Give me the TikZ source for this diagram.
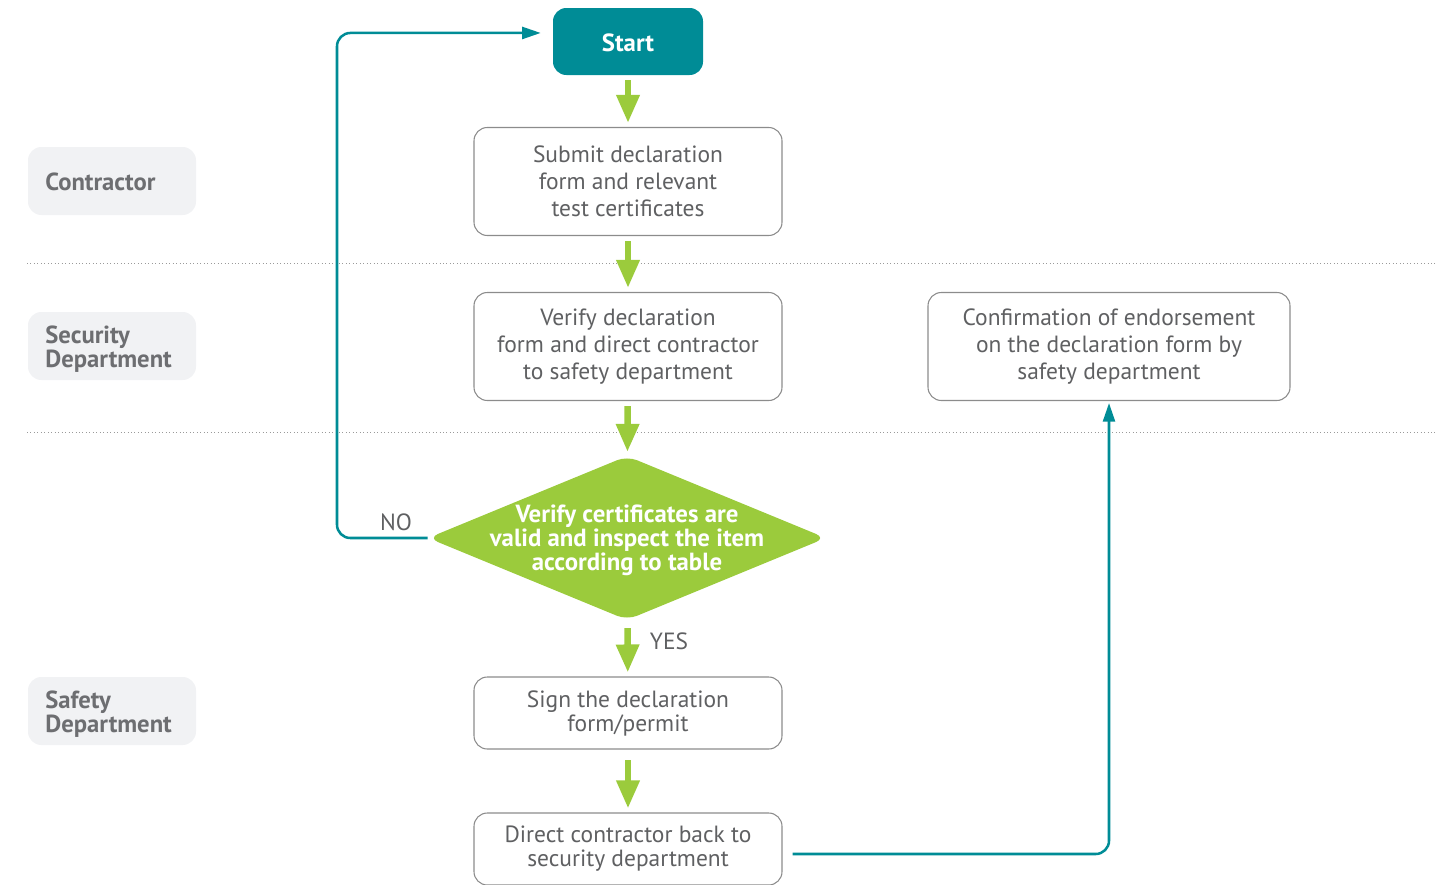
\documentclass[tikz,border=0pt]{standalone}
\usepackage{fontspec}
\setmainfont{PT Sans}
\usetikzlibrary{arrows.meta,shapes.geometric,calc}
\definecolor{tealc}{HTML}{008C96}
\definecolor{greenc}{HTML}{9BCB3C}
\definecolor{lanefill}{HTML}{F1F2F4}
\definecolor{lanetext}{HTML}{6D6E71}
\definecolor{bodytext}{HTML}{5F6062}
\definecolor{boxline}{HTML}{8C8C8C}
\definecolor{dotline}{HTML}{9A9A9A}
\begin{document}
\begin{tikzpicture}[x=0.75pt,y=-0.75pt,
  bodyfont/.style={font=\fontsize{17.6}{20.25}\selectfont},
  procbox/.style={draw=boxline, line width=0.8pt, rounded corners=10pt, fill=white,
    text=bodytext, align=center, bodyfont, minimum width=231pt, minimum height=81pt, inner sep=0pt},
  shortbox/.style={procbox, minimum height=54pt, font=\fontsize{17.6}{18}\selectfont},
  startbox/.style={fill=tealc, rounded corners=10pt, text=white, font=\bfseries\fontsize{18.6}{20}\selectfont,
    minimum width=112.5pt, minimum height=50.25pt, inner sep=0pt, text height=16pt},
  lanebox/.style={fill=lanefill, rounded corners=10pt, minimum width=126pt, minimum height=51pt, inner sep=0pt},
  lanetitle/.style={text=lanetext, align=left, anchor=west, inner sep=0pt,
    font=\bfseries\fontsize{18.5}{16.5}\selectfont},
  decbox/.style={diamond, fill=greenc, rounded corners=8pt, minimum width=298.5pt,
    minimum height=123pt, inner sep=0pt},
  dectext/.style={text=white, align=center, font=\bfseries\fontsize{18.6}{18}\selectfont, inner sep=0pt},
  flowarrow/.style={draw=greenc, line width=4.9pt, -{Triangle[width=16.5pt,length=21pt]},
    shorten <=3.75pt, shorten >=3pt},
  backline/.style={draw=tealc, line width=1.9pt, rounded corners=10pt,
    -{Triangle[width=9pt,length=14pt]}},
  lanesep/.style={draw=dotline, line width=0.6pt, dotted},
  tag/.style={text=bodytext, bodyfont, inner sep=0pt}
]
\useasboundingbox (0,0) rectangle (1442,885);

% swimlane separators
\coordinate (sepAl) at (27,263);  \coordinate (sepAr) at (1436,263);
\coordinate (sepBl) at (27,432);  \coordinate (sepBr) at (1436,432);
\draw[lanesep] (sepAl) -- (sepAr);
\draw[lanesep] (sepBl) -- (sepBr);

% lane titles
\node[lanebox] (laneC) at (112,181) {};
\node[lanebox] (laneS) at (112,346) {};
\node[lanebox] (laneF) at (112,711) {};
\node[lanetitle] (laneCt) at ([xshift=13pt,yshift=-0.8pt]laneC.west) {Contractor};
\node[lanetitle] (laneSt) at ([xshift=13pt,yshift=-2.6pt]laneS.west) {Security\\Department};
\node[lanetitle] (laneFt) at ([xshift=13pt,yshift=-2.6pt]laneF.west) {Safety\\Department};

% process steps
\node[startbox] (start) at (628,41.5) {Start};
\node[procbox] (submit) at (628,181.5) {Submit declaration\\form and relevant\\test certificates};
\node[procbox] (verify) at (628,346.5) {Verify declaration\\form and direct contractor\\to safety department};
\node[procbox, minimum width=271.5pt] (confirm) at (1109,346.5) {Confirmation of endorsement\\on the declaration form by\\safety department};
\node[decbox] (dec) at (627,538) {};
\node[dectext] (dect) at (627,540) {Verify certificates are\\valid and inspect the item\\according to table};
\node[shortbox] (sign) at (628,713) {Sign the declaration\\form/permit};
\node[shortbox] (direct) at (628,849) {Direct contractor back to\\security department};

% main flow
\draw[flowarrow] (start) -- (submit);
\draw[flowarrow] (submit) -- (verify);
\draw[flowarrow] (verify) -- (dec);
\draw[flowarrow, shorten <=6pt] (dec) -- (sign);
\draw[flowarrow, shorten <=8pt] (sign) -- (direct);

% branch labels
\node[tag] (yes) at (669,641) {YES};
\node[tag] (no) at (396,522) {NO};

% return loops
\coordinate (nocorner) at (337,538);
\draw[backline, shorten >=9pt] (dec.west) -- (nocorner) |- ([yshift=6.4pt]start.west);
\draw[backline, shorten >=1.5pt] ([shift={(10,5)}]direct.east) -| (confirm.south);
\end{tikzpicture}
\end{document}
